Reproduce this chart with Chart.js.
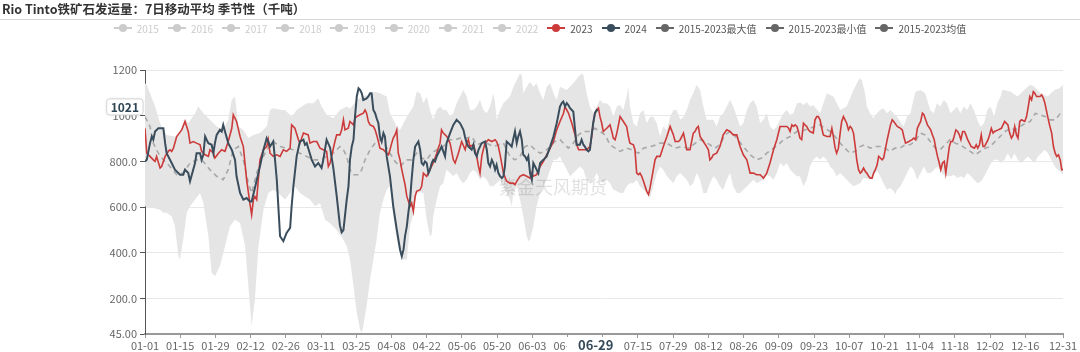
<!DOCTYPE html>
<html lang="zh-CN">
<head>
<meta charset="utf-8">
<title>Rio Tinto铁矿石发运量：7日移动平均 季节性（千吨）</title>
<script src="https://cdn.jsdelivr.net/npm/chart.js@4.4.1/dist/chart.umd.min.js"></script>
<style>
    html, body { margin: 0; padding: 0; background: #fff; }
    body { width: 1080px; height: 352px; position: relative; overflow: hidden;
           font-family: "Microsoft YaHei", "Noto Sans CJK SC", "Noto Sans", sans-serif; }
    #title { position: absolute; left: 2px; top: 0; font-size: 12.5px; font-weight: bold; color: #333;
             line-height: 17px; white-space: nowrap; }
    #rule { position: absolute; left: 0; width: 1080px; top: 19px; height: 1px; background: #d8d8d8; }
    #legend { position: absolute; left: 0; width: 1080px; top: 20px; height: 16px; display: flex;
              justify-content: center; align-items: center; font-size: 10px; }
    .item { display: flex; align-items: center; margin: 0 4.5px; white-space: nowrap; }
    .icon { position: relative; width: 18px; height: 10px; margin-right: 5px; }
    .icon::before { content: ''; position: absolute; left: 0; right: 0; top: 4.2px; height: 1.5px; background: var(--c); }
    .icon::after { content: ''; position: absolute; left: 5px; top: 1px; width: 8px; height: 8px;
                   border-radius: 50%; background: var(--c); }
    #chart { position: absolute; left: 0; top: 0; }
</style>
</head>
<body>
<canvas id="chart" width="1080" height="352"></canvas>
<div id="title">Rio Tinto铁矿石发运量：7日移动平均 季节性（千吨）</div>
<div id="rule"></div>
<div id="legend"></div>
<script>
// ---------------- données (jour de l'année 2024, valeur en milliers de tonnes) ----------------
const hiddenYears = ['2015', '2016', '2017', '2018', '2019', '2020', '2021', '2022'];
const shownNames = ['2023', '2024', '2015-2023最大值', '2015-2023最小值', '2015-2023均值'];

const xTickDays = [0, 14, 28, 42, 56, 70, 84, 98, 112, 126, 140, 154, 168, 182, 196, 210, 224, 238, 252, 266, 280, 294, 308, 322, 336, 350, 365];
const yTicks = [45, 200, 400, 600, 800, 1000, 1200];

const days2023 = [0,0.7,2.0,3.3,4.0,4.6,6.0,6.6,8.0,9.3,9.9,10.6,11.3,12.6,14.6,15.9,17.2,17.9,19.2,20.5,21.9,22.5,23.9,25.2,25.8,27.2,27.8,29.2,30.5,31.8,33.1,34.5,35.1,36.4,37.8,39.1,40.4,41.7,42.4,43.1,43.7,44.4,45.7,47.1,48.4,49.0,49.7,51.0,52.4,53.7,55.0,56.3,57.7,58.3,59.6,61.0,61.6,63.0,64.9,65.6,66.9,68.3,69.6,70.9,72.2,72.9,73.6,
    75.5,76.2,77.5,78.2,78.9,79.5,80.8,81.5,82.9,83.5,84.2,85.5,86.8,87.5,88.1,88.8,89.5,90.8,91.5,92.1,92.8,93.4,94.8,96.1,96.8,97.4,98.1,98.7,99.4,100.1,100.7,101.4,102.1,103.4,104.1,105.4,106.0,106.7,107.4,108.0,109.4,110.0,110.7,112.0,113.3,114.6,116.0,116.6,117.3,117.9,118.6,120.0,121.3,122.6,123.3,124.6,125.9,127.3,127.9,128.6,129.2,130.6,131.9,132.6,133.2,133.9,134.5,135.2,136.5,137.9,139.2,139.8,140.5,141.2,141.8,142.5,143.8,145.1,146.5,147.1,147.8,149.1,150.4,151.8,153.1,153.8,154.4,155.7,157.1,158.4,159.7,161.1,162.4,163.7,165.0,166.4,167.0,167.7,168.4,169.7,171.0,171.7,172.4,173.0,
    174.3,175.6,176.9,177.6,178.2,178.9,179.6,180.3,180.9,181.6,182.2,183.6,184.9,185.6,186.2,186.9,187.6,188.9,190.2,191.5,192.2,192.8,194.2,194.8,195.5,196.2,196.8,197.5,198.2,199.5,200.2,200.8,202.1,202.8,203.5,204.8,206.1,207.5,208.8,210.1,210.8,212.1,212.8,214.1,214.8,215.4,216.7,218.0,218.7,219.3,220.0,220.7,222.0,223.3,224.0,224.6,225.3,225.9,227.3,228.6,229.9,231.3,232.6,233.9,235.3,236.6,237.9,239.3,240.6,241.9,243.2,244.6,245.2,245.9,247.2,248.5,249.9,251.2,252.5,253.9,255.2,255.9,256.5,257.2,257.8,258.5,259.2,259.8,
    260.4,261.1,261.8,262.4,263.1,263.8,264.4,265.7,266.4,267.1,267.7,268.4,269.1,269.7,271.1,272.4,273.1,273.7,274.4,275.0,275.7,276.4,277.0,277.7,279.0,279.7,280.4,281.0,281.7,282.4,283.0,283.7,284.4,285.0,285.7,286.4,287.0,287.7,288.4,289.1,289.7,290.4,291.1,291.7,292.4,293.1,293.7,295.1,296.4,297.1,297.7,299.1,300.4,301.1,301.7,302.4,303.7,305.0,305.7,306.4,307.1,307.7,308.4,309.1,309.7,310.4,311.1,312.4,313.1,313.8,314.4,315.1,315.8,316.4,317.1,317.8,318.4,319.1,319.8,320.4,321.1,321.7,322.4,323.1,323.8,324.4,325.1,325.8,326.4,327.1,327.8,328.5,329.8,330.5,331.1,331.8,332.5,333.2,333.8,335.2,335.8,336.5,337.2,337.8,339.2,340.5,341.8,343.1,343.8,344.5,345.2,345.8,346.5,347.1,347.8,348.5,349.8,350.5,351.2,351.8,352.5,353.2,353.8,354.5,355.8,356.5,357.2,357.8,358.5,359.2,359.8,360.5,361.2,361.9,362.5,363.2,363.9,364.5,365];
const vals2023 = [945,836,822,807,800,822,771,778,822,844,851,844,858,909,938,975,931,880,887,880,873,844,829,822,851,836,815,836,851,844,887,945,1004,975,909,865,720,618,567,633,647,633,807,851,865,895,836,822,829,822,851,844,858,960,945,895,880,924,916,880,887,887,858,851,844,778,793,
    887,916,916,938,982,938,945,975,960,989,996,1004,1011,1025,1011,975,960,953,938,916,887,858,851,836,829,851,880,902,916,938,836,807,764,698,647,604,618,582,647,669,676,691,749,735,764,793,836,858,880,938,924,909,880,807,793,836,887,851,880,895,865,873,822,778,749,822,851,880,895,887,895,887,865,829,793,749,713,705,705,698,713,735,742,735,727,749,735,742,778,800,829,858,887,938,975,1011,1040,1025,1011,967,916,873,851,851,
    851,851,865,909,967,1011,1025,1033,996,967,931,945,960,931,902,895,924,996,975,953,909,880,873,851,749,742,749,735,713,669,655,684,764,807,822,822,865,909,953,916,887,887,895,924,887,851,851,924,931,945,953,909,887,865,851,807,815,829,836,865,916,938,931,916,916,865,829,807,749,749,742,742,735,727,749,793,851,895,953,953,953,945,931,960,953,960,953,931,
    902,895,967,960,953,938,931,924,982,996,996,982,945,916,909,909,945,909,858,836,858,924,975,996,967,938,953,945,924,865,807,764,749,756,771,756,749,735,727,727,749,764,785,822,815,807,815,895,960,982,975,953,945,938,909,880,887,895,902,895,945,960,975,1011,1004,982,960,938,916,895,858,822,793,764,793,800,749,807,865,887,887,909,938,931,916,895,931,931,916,895,880,865,858,873,858,873,916,865,865,895,916,945,924,931,938,945,975,960,924,902,916,953,916,902,975,982,975,996,1040,1084,1069,1105,1098,1084,1084,1091,1076,1055,1018,982,953,924,865,836,822,829,807,764,764];

const days2024 = [0,0.7,2.0,2.7,3.3,4.0,5.3,7.3,8.0,8.6,10.6,11.9,13.9,15.2,15.9,17.2,17.9,19.9,20.5,21.9,22.5,23.2,23.9,24.5,25.2,26.5,27.2,27.8,28.5,29.8,30.5,31.1,31.8,33.1,34.5,35.8,36.4,37.8,39.1,40.4,41.7,42.4,43.7,45.7,47.1,48.4,49.0,49.7,51.0,51.7,52.4,53.7,55.0,56.3,57.7,58.3,59.0,60.3,61.6,63.0,63.6,64.3,64.9,66.3,67.6,68.9,70.2,70.9,72.2,73.6,
    74.9,76.2,77.5,78.2,78.9,80.2,80.9,81.5,82.2,82.9,83.5,84.2,84.9,85.5,86.2,86.8,88.1,88.8,89.5,90.1,90.8,91.5,92.1,92.8,93.4,94.1,94.8,95.4,96.1,97.4,98.7,100.1,101.4,102.1,102.8,103.4,104.1,104.7,105.4,106.0,106.7,107.4,108.7,109.4,110.0,110.7,111.3,112.0,112.7,113.3,114.0,114.6,115.3,116.0,116.6,117.3,117.9,118.6,119.3,119.9,121.3,122.6,123.9,125.3,126.6,127.2,127.9,128.6,129.9,130.6,
    131.2,131.9,132.6,133.2,133.9,135.2,135.9,136.5,137.2,137.9,138.5,139.2,139.8,140.5,141.2,141.9,142.5,143.1,143.8,144.5,145.8,146.5,147.1,147.8,148.4,149.1,149.8,150.4,151.1,151.8,152.4,153.1,153.8,154.4,155.1,155.7,156.4,157.1,158.4,159.7,161.1,162.4,163.7,165.0,165.7,166.3,167.0,167.7,168.3,169.0,169.7,170.3,171.0,171.6,172.3,172.9,173.6,174.3,174.9,175.6,176.3,176.9,177.6,178.2,178.9,179.6,180];
const vals2024 = [800,807,880,909,895,931,945,945,880,836,793,764,742,742,764,749,713,793,836,836,807,829,909,895,880,873,836,880,916,938,931,960,931,880,851,807,735,662,633,640,625,625,684,778,851,902,887,865,887,807,720,473,451,487,509,604,691,822,887,895,873,880,858,807,778,793,771,807,895,860,
    770,650,520,490,500,633,691,807,865,895,996,1084,1120,1113,1098,1069,1076,1084,1098,1098,1025,1011,989,967,909,887,924,909,822,735,604,502,415,385,415,473,516,575,633,720,807,865,887,851,793,785,800,793,749,764,793,807,800,822,836,851,865,844,822,880,924,960,982,967,938,909,880,865,851,873,
    836,822,851,865,880,887,851,793,778,807,793,764,785,749,735,727,735,778,887,880,865,902,931,880,909,931,895,829,822,807,822,749,720,793,778,764,749,793,807,822,865,909,967,1040,1055,1062,1040,1055,1047,1033,1025,1018,938,873,873,873,895,873,865,851,844,851,916,967,1011,1025,1021];

const daysMax = [0,0.7,2.0,4.0,6.0,8.6,11.9,14.6,16.0,17.2,19.9,21.2,23.2,25.8,28.5,31.1,33.1,34.5,35.8,37.1,39.1,41.1,43.1,45.7,48.4,49.7,51.0,54.3,55.7,58.3,60.3,62.3,64.3,66.9,68.9,70.2,72.2,74.9,77.5,80.2,
    81.5,84.2,86.8,91.5,93.4,96.1,97.4,100.1,101.4,104.1,106.7,108.0,109.4,110.7,112.0,113.3,114.6,116.0,117.3,118.6,119.9,121.3,122.6,123.9,125.3,126.6,127.9,129.2,130.6,131.9,133.2,134.5,135.9,137.2,138.5,139.2,139.8,141.2,142.5,143.8,
    145.1,146.5,147.8,149.1,149.8,150.4,151.8,153.1,154.4,155.7,157.1,158.4,159.7,161.1,162.4,163.7,165.0,167.7,170.3,172.3,173.6,174.3,175.6,176.9,178.2,179.6,180.9,182.2,183.6,184.9,186.2,187.6,188.9,190.2,191.5,192.2,192.8,194.2,195.5,196.8,
    198.2,199.5,200.8,202.1,203.5,204.8,206.1,207.5,208.8,210.1,211.4,212.8,214.1,215.4,216.7,218.0,219.3,220.7,222.0,223.3,224.6,226.0,227.3,228.6,229.9,231.3,232.6,233.9,235.3,236.6,237.9,239.3,240.6,241.9,243.2,244.6,245.9,247.2,248.5,249.9,
    251.2,252.5,253.9,255.2,256.5,257.8,259.2,260.5,261.8,263.1,264.4,265.7,268.4,271.1,273.7,276.4,279.0,281.7,283.7,284.4,285.0,286.3,287.0,288.3,289.6,291.0,292.3,293.6,295.0,296.3,299.0,301.6,303.0,304.3,306.3,308.3,310.2,312.2,313.6,314.9,
    316.2,317.6,318.9,320.2,321.6,322.9,324.2,325.6,326.9,328.2,329.6,330.9,332.2,333.6,334.9,336.2,337.6,338.9,340.2,340.9,341.6,344.2,346.9,349.6,350.9,352.2,353.6,356.2,358.9,360.2,361.6,363.6,365];
const valsMax = [1142,1135,1098,1040,967,916,909,931,985,967,1011,1040,1011,982,953,938,982,1069,1084,953,938,902,916,924,953,1025,1033,1025,1025,996,1025,1040,1055,1055,1076,1040,1004,989,1025,1040,
    1030,1069,1084,1105,1098,1084,1011,953,938,996,1040,1105,1098,1055,1084,1025,982,1025,1040,1025,1025,996,1011,1055,1084,1113,1084,1025,1025,1040,1069,1025,1011,1040,1098,1055,982,1025,1055,1069,
    1084,1127,1156,1185,1178,1098,1127,1149,1127,1142,1098,1069,1127,1142,1098,1069,1127,1113,1142,1171,1185,1178,1098,1040,1011,1040,1069,1055,1055,1040,996,1040,1047,1025,1084,1127,1040,967,953,1011,
    1025,967,996,996,967,909,953,938,996,1025,1025,982,996,1025,1069,1098,1135,1113,1040,982,982,982,953,996,1011,1040,1069,1040,996,953,967,1025,1055,1069,1040,967,982,1011,953,938,
    953,982,1011,1025,1004,1011,1055,1058,1047,1060,1040,1047,1011,1098,1084,1025,1040,1113,1156,1164,1156,1098,1040,1011,989,1011,1025,1033,1011,1025,996,953,996,1011,1105,1113,1098,1025,1011,1055,
    1040,1069,1055,1011,1025,1040,1011,1040,1025,1055,1025,982,953,967,1025,1040,996,1055,1084,1113,1113,1105,1084,1113,1127,1135,1127,1098,1084,1098,1113,1120,1135];

const daysMin = [0,3.3,6.0,7.3,8.6,10.6,11.9,13.3,13.9,15.2,16.6,17.9,19.9,21.9,23.2,25.2,26.5,27.8,29.8,31.8,33.8,35.8,37.8,39.8,41.1,42.4,43.7,45.1,47.1,49.0,51.0,53.0,55.7,57.7,59.6,61.6,63.6,65.6,67.6,69.6,
    71.6,73.6,76.2,78.2,80.2,81.5,82.9,84.2,85.5,86.2,86.8,88.1,89.5,90.8,92.1,93.4,94.8,96.1,97.4,98.7,100.1,102.1,104.1,105.4,106.7,108.0,109.4,110.7,112.0,113.3,114.0,114.6,116.0,117.3,118.6,119.9,121.3,122.6,123.9,125.3,
    126.6,127.9,129.2,130.6,131.9,133.2,134.5,135.9,137.2,138.5,139.8,141.2,142.5,143.8,145.1,145.8,146.5,147.8,149.1,150.4,151.8,152.4,153.1,154.4,155.7,157.1,158.4,159.7,161.1,162.4,163.7,165.0,166.3,167.7,169.0,170.3,171.6,172.9,174.3,175.6,
    176.9,178.2,179.6,180.9,182.2,183.6,184.9,186.2,187.6,188.9,190.2,191.5,192.8,194.2,195.5,196.8,198.2,199.5,200.8,202.1,203.5,204.8,206.1,207.5,208.8,210.1,211.4,212.8,214.1,215.4,216.7,218.0,219.3,220.7,222.0,223.3,224.6,226.0,227.3,228.6,
    229.9,231.3,232.6,233.9,235.3,236.6,237.9,239.3,240.6,241.9,243.2,244.6,245.9,247.2,248.5,249.9,251.2,252.5,253.9,255.2,256.5,257.8,259.2,260.4,261.8,263.1,264.4,265.7,267.1,268.4,269.7,271.1,272.4,273.7,275.0,276.4,277.7,279.0,280.4,281.7,
    283.0,284.4,285.7,287.0,288.3,289.6,291.0,292.3,293.6,295.0,296.3,297.7,298.3,299.0,300.4,301.7,303.0,304.3,305.7,307.0,308.4,309.7,311.0,312.4,313.7,315.0,316.4,317.7,319.0,320.4,321.7,323.0,324.4,325.7,327.0,328.4,329.7,331.0,332.4,333.7,
    335.0,336.4,337.7,339.1,340.4,341.7,343.1,344.4,345.7,347.0,348.4,349.7,351.0,352.4,353.7,355.0,356.4,357.7,359.0,360.4,361.7,363.0,364.4,365];
const valsMin = [604,596,589,575,575,560,516,385,371,458,575,604,633,662,618,473,313,298,342,429,516,545,531,429,255,80,196,429,589,662,676,662,633,662,691,662,647,633,604,618,
    545,530,500,470,430,371,255,138,65,51,80,167,284,371,458,575,633,676,691,560,458,371,371,516,570,662,665,662,545,473,480,560,633,691,705,764,749,735,749,720,
    705,720,749,764,749,720,735,720,691,691,705,720,691,662,633,604,662,691,633,560,473,451,458,516,604,662,691,720,764,807,807,822,793,764,735,749,764,778,764,720,
    705,720,749,720,705,720,705,676,669,662,662,691,705,705,720,691,676,662,640,691,749,778,764,735,720,705,735,749,735,720,691,705,749,720,662,662,705,735,720,691,
    676,720,749,691,662,662,676,691,705,720,705,713,720,740,735,720,749,793,778,793,764,749,735,735,691,720,778,807,822,807,822,807,778,764,735,749,735,720,705,691,
    698,705,727,725,720,735,760,735,705,676,684,669,655,676,691,720,749,778,764,720,749,778,749,749,764,778,755,740,735,735,742,727,735,727,749,735,720,705,713,735,
    764,793,807,807,793,807,836,807,836,807,793,807,822,807,793,822,836,851,836,807,778,764,749,742];

const daysAvg = [0,2.0,3.3,5.3,7.3,9.9,12.6,15.2,17.9,20.5,23.2,25.8,28.5,31.1,33.1,35.1,37.1,39.1,41.1,42.4,44.4,46.4,48.4,51.0,53.7,56.3,59.0,61.6,64.3,66.9,69.6,72.2,74.9,77.5,78.9,80.2,81.5,82.9,84.9,86.2,
    87.5,89.5,91.5,93.4,95.4,97.4,99.4,101.4,102.7,104.1,106.0,108.0,110.0,112.0,113.9,116.0,118.6,121.3,123.3,125.3,127.9,129.9,131.9,133.9,135.9,138.5,140.5,142.5,145.1,147.1,149.1,151.1,153.1,155.1,157.1,159.0,161.1,163.0,165.0,167.0,
    168.3,170.3,172.3,174.3,176.9,178.9,180.9,182.9,184.9,186.9,188.9,191.5,193.5,196.2,198.2,200.8,203.5,204.8,207.5,210.7,213.4,216.0,218.0,220.7,222.6,224.6,226.6,228.6,230.6,232.6,235.3,237.9,240.6,243.2,245.2,247.2,249.9,251.8,253.9,256.5,
    259.2,261.8,264.4,266.4,268.4,270.4,272.4,274.4,276.4,278.3,280.3,282.3,284.3,286.3,288.3,290.3,292.3,294.2,296.2,298.2,300.2,302.2,304.2,306.2,308.2,310.2,312.2,314.2,316.1,318.1,320.1,322.1,324.1,326.1,328.1,330.1,332.1,334.1,336.0,338.0,
    340.0,342.0,344.0,346.0,348.0,350.0,352.0,354.0,356.0,358.0,360.0,362.0,364.0,365];
const valsAvg = [996,953,880,836,807,778,742,749,793,807,800,764,735,720,764,851,865,807,705,662,749,807,851,887,865,858,851,836,822,807,807,822,836,865,851,822,764,742,742,764,
    807,851,880,895,873,836,800,778,793,807,807,836,815,807,836,851,865,895,895,902,902,909,873,880,880,865,873,880,822,807,822,865,873,851,836,844,865,887,895,873,
    858,880,916,931,931,945,931,916,873,858,844,858,851,836,858,865,873,880,880,858,865,858,873,895,887,873,858,873,916,931,902,865,829,807,815,836,858,873,895,909,
    931,935,945,953,960,945,931,909,880,858,836,844,865,873,858,865,865,858,844,858,858,873,873,887,924,916,887,858,851,873,895,880,873,858,844,829,844,858,865,887,
    909,931,945,938,953,967,975,1010,1004,996,982,982,1011,1004];

// ---------------- rendu ----------------
const FONT = '"Microsoft YaHei", "Noto Sans CJK SC", "Noto Sans", sans-serif';
const C2023 = '#cc3a3a';
const C2024 = '#3a4d5c';
const CGREY = '#666';

Chart.defaults.font.family = FONT;

function dayLabel(d) {
    const t = new Date(2024, 0, 1 + Math.round(d));
    return String(t.getMonth() + 1).padStart(2, '0') + '-' + String(t.getDate()).padStart(2, '0');
}

function fmtY(v) {
    if (v === 45) return '45.00';
    if (v >= 1000) return String(v);
    return v.toFixed(1);
}

const toPts = (ds, vs) => ds.map((d, i) => ({ x: d, y: vs[i] }));

// légende en HTML
const legendEl = document.getElementById('legend');
function addLegend(name, iconColor, textColor) {
    const it = document.createElement('div');
    it.className = 'item';
    it.innerHTML = `<span class="icon" style="--c:${iconColor}"></span><span style="color:${textColor}">${name}</span>`;
    legendEl.appendChild(it);
}
hiddenYears.forEach(n => addLegend(n, '#ccc', '#ccc'));
const shownColors = [C2023, C2024, CGREY, CGREY, CGREY];
shownNames.forEach((n, i) => addLegend(n, shownColors[i], '#555'));

// filigrane + étiquettes du pointeur
const overlayPlugin = {
    id: 'overlay',
    afterDatasetDraw(chart, args) {
        if (args.index !== 3) return;
        const ctx = chart.ctx;
        ctx.save();
        ctx.font = '18px ' + FONT;
        ctx.fillStyle = 'rgba(0,0,0,0.12)';
        ctx.textAlign = 'center';
        ctx.textBaseline = 'middle';
        ctx.fillText('紫金天风期货', 553, 187);
        ctx.restore();
    },
    afterDraw(chart) {
        const ctx = chart.ctx;
        const xs = chart.scales.x, ys = chart.scales.y;
        const lastDay = days2024[days2024.length - 1];
        const lastVal = vals2024[vals2024.length - 1];

        // étiquette axe Y
        ctx.save();
        ctx.font = 'bold 12px ' + FONT;
        const txt = String(lastVal);
        const w = ctx.measureText(txt).width + 8;
        const cy = ys.getPixelForValue(lastVal) - 4;
        const right = chart.chartArea.left - 2;
        ctx.beginPath();
        ctx.roundRect(right - w, cy - 8, w, 16, 3);
        ctx.fillStyle = '#fff';
        ctx.shadowColor = 'rgba(0,0,0,0.15)';
        ctx.shadowBlur = 3;
        ctx.fill();
        ctx.shadowBlur = 0;
        ctx.strokeStyle = '#d5d5d5';
        ctx.lineWidth = 1;
        ctx.stroke();
        ctx.fillStyle = '#2f4554';
        ctx.textAlign = 'center';
        ctx.textBaseline = 'middle';
        ctx.fillText(txt, right - w / 2, cy + 0.5);

        // étiquette axe X
        const px = xs.getPixelForValue(lastDay);
        const lbl = dayLabel(lastDay);
        ctx.font = 'bold 13px ' + FONT;
        ctx.fillStyle = '#fff';
        ctx.fillRect(px - 31, chart.chartArea.bottom + 3, 56, 16);
        ctx.fillStyle = '#34495a';
        ctx.fillText(lbl, px - 2, 345);
        ctx.restore();
    }
};

new Chart(document.getElementById('chart'), {
    type: 'line',
    data: {
        datasets: [
            { label: '2024', data: toPts(days2024, vals2024), borderColor: C2024, borderWidth: 2, fill: false },
            { label: '2023', data: toPts(days2023, vals2023), borderColor: C2023, borderWidth: 1.6, fill: false },
            { label: '2015-2023均值', data: toPts(daysAvg, valsAvg), borderColor: '#a8a8a8', borderWidth: 1.6,
              borderDash: [5, 4], fill: false },
            { label: '2015-2023最大值', data: toPts(daysMax, valsMax), borderColor: 'rgba(0,0,0,0)', borderWidth: 0,
              backgroundColor: '#e5e5e5', fill: '+1' },
            { label: '2015-2023最小值', data: toPts(daysMin, valsMin), borderColor: 'rgba(0,0,0,0)', borderWidth: 0, fill: false }
        ]
    },
    options: {
        responsive: false,
        animation: false,
        devicePixelRatio: 1,
        layout: { padding: { left: 0, top: 70, right: 17, bottom: 0 } },
        plugins: { legend: { display: false }, tooltip: { enabled: false } },
        elements: { point: { radius: 0 }, line: { tension: 0 } },
        scales: {
            x: {
                type: 'linear', min: 0, max: 365,
                afterBuildTicks: s => { s.ticks = xTickDays.map(v => ({ value: v })); },
                afterFit: s => { s.height = 18; },
                ticks: { autoSkip: false, maxRotation: 0, color: '#666', font: { size: 11 }, padding: 1,
                         callback: v => dayLabel(v) },
                grid: { drawOnChartArea: false, tickLength: 4, tickColor: '#999' },
                border: { color: '#999', width: 2 }
            },
            y: {
                min: 45, max: 1200,
                afterBuildTicks: s => { s.ticks = yTicks.map(v => ({ value: v })); },
                afterFit: s => { s.width = 145; },
                ticks: { color: '#666', font: { size: 11 }, padding: 3, callback: v => fmtY(v) },
                grid: { color: '#e8e8e8', tickLength: 5, tickColor: '#555' },
                border: { color: '#555', width: 1 }
            }
        }
    },
    plugins: [overlayPlugin]
});
</script>
</body>
</html>
